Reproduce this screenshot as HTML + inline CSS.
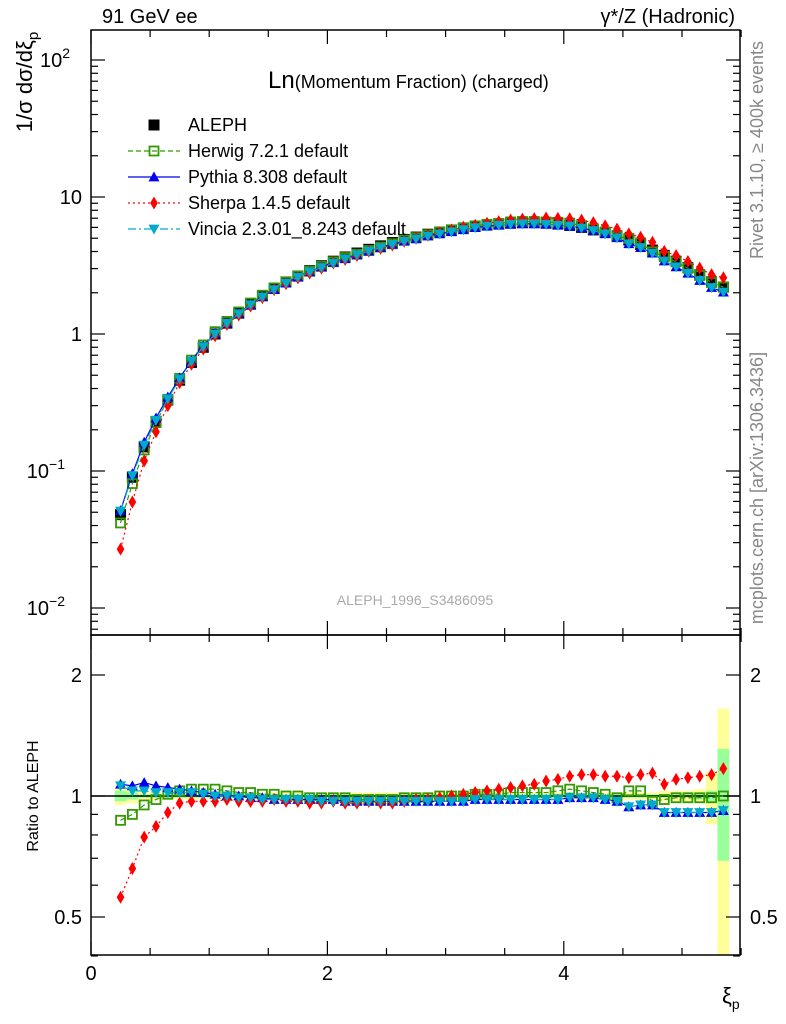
<!DOCTYPE html>
<html><head><meta charset="utf-8"><style>
html,body{margin:0;padding:0;background:#fff;}
svg{display:block;font-family:"Liberation Sans",sans-serif;}
</style></head><body>
<svg id="c" width="786" height="1024" viewBox="0 0 786 1024"></svg>
<script>
const xs=[0.25,0.35,0.45,0.55,0.65,0.75,0.85,0.95,1.05,1.15,1.25,1.35,1.45,1.55,1.65,1.75,1.85,1.95,2.05,2.15,2.25,2.35,2.45,2.55,2.65,2.75,2.85,2.95,3.05,3.15,3.25,3.35,3.45,3.55,3.65,3.75,3.85,3.95,4.05,4.15,4.25,4.35,4.45,4.55,4.65,4.75,4.85,4.95,5.05,5.15,5.25,5.35];
const aleph=[0.048,0.09,0.15,0.23,0.33,0.46,0.62,0.8,1.0,1.2,1.42,1.65,1.9,2.15,2.4,2.65,2.9,3.15,3.4,3.65,3.9,4.15,4.4,4.65,4.9,5.1,5.35,5.55,5.75,5.95,6.1,6.25,6.35,6.45,6.5,6.5,6.45,6.35,6.2,6.0,5.75,5.5,5.2,4.85,4.5,4.1,3.75,3.4,3.05,2.7,2.4,2.2];
const herwig=[0.87,0.90,0.95,0.98,1.01,1.03,1.04,1.04,1.04,1.03,1.02,1.02,1.01,1.01,1.00,1.00,0.99,0.99,0.99,0.99,0.98,0.98,0.98,0.98,0.99,0.99,0.99,1.00,1.00,1.00,1.01,1.01,1.01,1.02,1.02,1.02,1.02,1.03,1.04,1.03,1.02,1.01,0.99,1.03,1.03,0.97,0.98,0.99,0.99,0.99,0.99,1.00];
const pythia=[1.07,1.06,1.08,1.06,1.05,1.04,1.03,1.02,1.01,1.00,1.00,0.99,0.99,0.98,0.98,0.98,0.98,0.98,0.98,0.97,0.97,0.97,0.97,0.97,0.97,0.97,0.97,0.97,0.97,0.97,0.98,0.98,0.98,0.98,0.98,0.98,0.98,0.98,0.99,0.99,0.99,0.98,0.97,0.94,0.95,0.95,0.91,0.91,0.91,0.91,0.91,0.92];
const sherpa=[0.56,0.66,0.79,0.84,0.91,0.96,0.97,0.97,0.97,0.98,0.97,0.97,0.97,0.98,0.97,0.97,0.96,0.96,0.97,0.96,0.96,0.97,0.96,0.96,0.97,0.98,0.98,0.99,1.00,1.01,1.02,1.03,1.04,1.05,1.06,1.07,1.09,1.10,1.12,1.13,1.13,1.12,1.12,1.11,1.13,1.14,1.07,1.10,1.11,1.12,1.13,1.17];
const vincia=[1.06,1.03,1.03,1.02,1.02,1.02,1.02,1.01,1.00,1.00,0.99,0.99,0.98,0.98,0.98,0.98,0.98,0.97,0.97,0.97,0.97,0.97,0.97,0.97,0.97,0.97,0.97,0.97,0.97,0.97,0.98,0.98,0.98,0.98,0.98,0.98,0.98,0.98,0.99,0.99,0.99,0.98,0.97,0.94,0.95,0.95,0.91,0.91,0.91,0.91,0.91,0.92];
const totErr=[0.05,0.04,0.03,0.025,0.02,0.02,0.02,0.02,0.02,0.02,0.02,0.02,0.02,0.02,0.02,0.02,0.02,0.02,0.02,0.02,0.02,0.02,0.02,0.02,0.02,0.02,0.02,0.02,0.02,0.02,0.02,0.02,0.02,0.02,0.02,0.02,0.02,0.02,0.02,0.02,0.02,0.02,0.02,0.02,0.02,0.02,0.03,0.03,0.03,0.04,0.15,0.65];
const statErr=[0.03,0.02,0.01,0.01,0.01,0.01,0.01,0.01,0.01,0.01,0.01,0.01,0.01,0.01,0.01,0.01,0.01,0.01,0.01,0.01,0.01,0.01,0.01,0.01,0.01,0.01,0.01,0.01,0.01,0.01,0.01,0.01,0.01,0.01,0.01,0.01,0.01,0.01,0.01,0.01,0.01,0.01,0.01,0.01,0.01,0.01,0.01,0.01,0.01,0.02,0.03,0.31];
const xTicks=[0,2,4];

const L=91,R=740,T=30,M=635,B=955;
const X=v=>L+(v-0)*118.2;
const Y=v=>334-137*Math.log10(v);
const RY=v=>796-121*Math.log2(v);
const svg=document.getElementById('c');
const NS='http://www.w3.org/2000/svg';
function mk(tag,at,parent){const e=document.createElementNS(NS,tag);for(const k in at)e.setAttribute(k,at[k]);(parent||svg).appendChild(e);return e;}
function txt(s,x,y,sz,anchor,fill,name){const t=mk('text',{x:x,y:y,'font-size':sz,'text-anchor':anchor||'start',fill:fill||'#000'});t.textContent=s;

return t;}

const gb=mk('g',{});


xs.forEach((x,i)=>{
  const x0=X(x-0.05),x1=X(x+0.05);
  const yt=Math.max(M,RY(1+totErr[i])),yb=Math.min(B,RY(Math.max(0.3,1-totErr[i])));
  const r=mk('rect',{x:x0,y:yt,width:x1-x0,height:yb-yt,fill:'#ffff99'},gb);
  
  
  const gt=RY(1+statErr[i]),gbo=RY(1-statErr[i]);
  const r2=mk('rect',{x:x0,y:gt,width:x1-x0,height:gbo-gt,fill:'#99ff99'},gb);
  
  
});
const ln=mk('line',{x1:L,x2:R,y1:RY(1),y2:RY(1),stroke:'#000','stroke-width':1.5});



function marker(g,type,x,y,color){
  const s=5.5;let e;
  if(type==='sq') e=mk('rect',{x:x-s,y:y-s,width:2*s,height:2*s,fill:color},g);
  else if(type==='osq') e=mk('rect',{x:x-s+1,y:y-s+1,width:2*s-2,height:2*s-2,fill:'none',stroke:color,'stroke-width':1.8},g);
  else if(type==='up') e=mk('polygon',{points:`${x},${y-s} ${x+s},${y+s*0.8} ${x-s},${y+s*0.8}`,fill:color},g);
  else if(type==='dn') e=mk('polygon',{points:`${x},${y+s} ${x+s},${y-s*0.8} ${x-s},${y-s*0.8}`,fill:color},g);
  else e=mk('polygon',{points:`${x},${y-s-1} ${x+s*0.7},${y} ${x},${y+s+1} ${x-s*0.7},${y}`,fill:color},g);
  
  
}
const series=[
 {name:'herwig',r:herwig,c:'#339900',m:'osq',d:'5,3'},
 {name:'pythia',r:pythia,c:'#0000ee',m:'up',d:''},
 {name:'sherpa',r:sherpa,c:'#ff0000',m:'dia',d:'2,3'},
 {name:'vincia',r:vincia,c:'#00aacc',m:'dn',d:'8,3,2,3'}];
function drawSeries(s,top){
  const g=mk('g',{});
  
  
  const pts=xs.map((x,i)=>[X(x),top?Y(aleph[i]*s.r[i]):RY(s.r[i])]);
  const p=mk('polyline',{points:pts.map(p=>p.join(',')).join(' '),fill:'none',stroke:s.c,'stroke-width':1.2,'stroke-dasharray':s.d},g);
  
  
  pts.forEach(q=>marker(g,s.m,q[0],q[1],s.c));
}
const gd=mk('g',{});


xs.forEach((x,i)=>marker(gd,'sq',X(x),Y(aleph[i]),'#000'));
series.forEach(s=>drawSeries(s,true));
series.forEach(s=>drawSeries(s,false));

const f1=mk('rect',{x:L,y:T,width:R-L,height:M-T,fill:'none',stroke:'#000','stroke-width':1.5});

const f2=mk('rect',{x:L,y:M,width:R-L,height:B-M,fill:'none',stroke:'#000','stroke-width':1.5});


const tg=mk('g',{stroke:'#000','stroke-width':1.2});

for(let v=0;v<=5.5;v+=0.5){const major=Math.abs(v%2)<1e-6;const l=major?14:7;
 mk('line',{x1:X(v),x2:X(v),y1:B,y2:B-l},tg);mk('line',{x1:X(v),x2:X(v),y1:M,y2:M-l},tg);
 mk('line',{x1:X(v),x2:X(v),y1:T,y2:T+l},tg);mk('line',{x1:X(v),x2:X(v),y1:M,y2:M+l},tg);}
for(let d=-3;d<=2;d++)for(let k=1;k<10;k++){const v=k*Math.pow(10,d);const y=Y(v);if(y<T||y>M)continue;const l=k===1?14:7;
 mk('line',{x1:L,x2:L+l,y1:y,y2:y},tg);mk('line',{x1:R,x2:R-l,y1:y,y2:y},tg);}
[0.4,0.5,0.6,0.7,0.8,0.9,1,2].forEach(v=>{const y=RY(v);const l=(v===0.5||v===1||v===2)?14:7;
 mk('line',{x1:L,x2:L+l,y1:y,y2:y},tg);mk('line',{x1:R,x2:R-l,y1:y,y2:y},tg);});

xTicks.forEach(v=>txt(String(v),X(v),980,20,'middle','#000','x-tick-label'));
[[100,'10','2'],[10,'10',''],[1,'1',''],[0.1,'10','−1'],[0.01,'10','−2']].forEach(a=>{
  const y=Y(a[0])+7;
  if(a[2]===''){txt(a[1],82,y,20,'end','#000','y-tick-label');}
  else{const t=txt(a[1],70,y,20,'end','#000','y-tick-label');const s=mk('tspan',{dy:-9,'font-size':14});s.textContent=a[2];t.appendChild(s);t.setAttribute('x',a[2]==='2'?70:65);}
});
[[2,'2'],[1,'1'],[0.5,'0.5']].forEach(a=>{txt(a[1],82,RY(a[0])+7,20,'end','#000','ratio-tick-label-left');txt(a[1],750,RY(a[0])+7,20,'start','#000','ratio-tick-label-right');});

txt('91 GeV ee',102,23,20,'start','#000','energy-label');
txt('γ*/Z (Hadronic)',735,23,20,'end','#000','process-label');
const tt=txt('Ln',268,88,24,'start','#000','plot-title');const ts=mk('tspan',{'font-size':18});ts.textContent='(Momentum Fraction) (charged)';tt.appendChild(ts);
txt('ALEPH_1996_S3486095',415,605,14,'middle','#aaaaaa','analysis-id');
const yl=txt('1/σ dσ/dξ',0,0,22,'middle','#000','y-axis-title');yl.setAttribute('transform','translate(32,82) rotate(-90)');
const ysub=mk('tspan',{dy:6,'font-size':15});ysub.textContent='p';yl.appendChild(ysub);
const rl=txt('Ratio to ALEPH',0,0,16,'middle','#000','ratio-axis-title');rl.setAttribute('transform','translate(38,796) rotate(-90)');
const xl=txt('ξ',722,1003,22,'start','#000','x-axis-title');const xsb=mk('tspan',{dy:6,'font-size':14});xsb.textContent='p';xl.appendChild(xsb);
const rv=txt('Rivet 3.1.10, ≥ 400k events',0,0,18,'middle','#888888','rivet-label');rv.setAttribute('transform','translate(763,150) rotate(-90)');
const mc=txt('mcplots.cern.ch [arXiv:1306.3436]',0,0,18,'middle','#888888','mcplots-label');mc.setAttribute('transform','translate(763,488) rotate(-90)');

const lg=mk('g',{});
const leg=[['ALEPH',null],['Herwig 7.2.1 default',series[0]],['Pythia 8.308 default',series[1]],['Sherpa 1.4.5 default',series[2]],['Vincia 2.3.01_8.243 default',series[3]]];
leg.forEach((e,i)=>{const y=125+i*26;
 if(e[1]){const l=mk('line',{x1:128,x2:180,y1:y,y2:y,stroke:e[1].c,'stroke-width':1.2,'stroke-dasharray':e[1].d},lg);
  marker(lg,e[1].m,154,y,e[1].c);}
 else marker(lg,'sq',154,y,'#000');
 const t=txt(e[0],188,y+6,18,'start','#000','legend-entry');lg.appendChild(t);});
</script>
</body></html>
